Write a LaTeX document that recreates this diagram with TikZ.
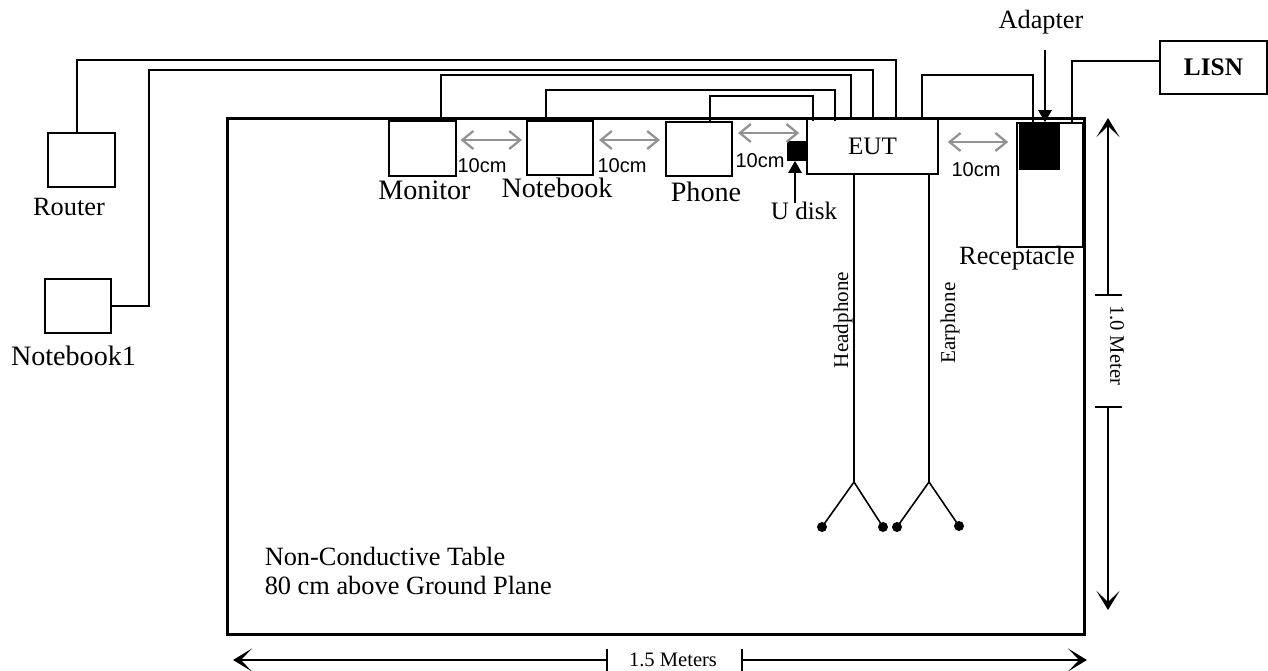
\documentclass[tikz,border=0pt]{standalone}
\usepackage{fontspec}
\setmainfont{Liberation Serif}
\setsansfont{Liberation Sans}
\usetikzlibrary{arrows.meta}

\begin{document}
\begin{tikzpicture}[x=0.02cm,y=-0.02cm,line width=0.9pt,
  >={Stealth[length=3.8mm,width=4.6mm,inset=2.2mm]},
  box/.style={draw,inner sep=0pt,minimum width=1.33cm,minimum height=1.09cm},
  blk/.style={draw,fill=black,inner sep=0pt},
  lbl/.style={font=\fontsize{16}{16}\selectfont,inner sep=0pt},
  cmlbl/.style={font=\sffamily\fontsize{11.4}{11.4}\selectfont,inner sep=0pt},
  dimlbl/.style={font=\fontsize{11.7}{11.7}\selectfont,inner sep=0pt},
  gaparrow/.style={<->,gray!85,line width=1.3pt,>={Straight Barb[length=2.2mm,width=3.6mm]}},
  ptr/.style={-{Triangle[length=2.4mm,width=2.6mm]},line width=1.3pt}]
  \useasboundingbox (0,0) rectangle (1268,670);

  % the table
  \node[draw,line width=1.7pt,minimum width=17.16cm,minimum height=10.34cm] (table) at (656,376.5) {};
  \node[inner sep=0pt,anchor=west,align=left,font=\fontsize{15}{16.5}\selectfont] (tabletxt) at (264,571)
    {Non-Conductive Table\\80 cm above Ground Plane};

  % devices beside the table
  \node[box] (router) at (81.5,160) {};
  \node[lbl,font=\fontsize{15}{15}\selectfont] (routerlbl) at (69,207) {Router};
  \node[box] (notebook1) at (78,306) {};
  \node[lbl] (notebook1lbl) at (73.5,356) {Notebook1};
  \node[box,minimum width=2.14cm,minimum height=1.06cm,font=\bfseries\fontsize{14.4}{14.4}\selectfont] (lisn) at (1213.5,67.5) {LISN};

  % devices on the table
  \node[box] (monitor) at (422.5,148.5) {};
  \node[box] (notebook) at (560,148) {};
  \node[box] (phone) at (699,149) {};
  \node[box,minimum width=2.62cm,minimum height=1.1cm,font=\fontsize{14.3}{14.3}\selectfont] (eut) at (872.5,146.5) {EUT};
  \node[blk,minimum size=0.36cm] (udisk) at (797,151) {};
  \node[box,minimum width=1.32cm,minimum height=2.48cm] (recept) at (1050,185) {};
  \node[blk,minimum width=0.78cm,minimum height=0.92cm] (adapter) at (1039.5,146) {};

  \node[lbl] (monitorlbl) at (424.5,190) {Monitor};
  \node[lbl] (notebooklbl) at (557,188) {Notebook};
  \node[lbl] (phonelbl) at (706,192) {Phone};
  \node[lbl,font=\fontsize{14.3}{14.3}\selectfont] (udisklbl) at (804,211) {U disk};
  \node[lbl,font=\fontsize{15}{15}\selectfont] (adapterlbl) at (1041,22) {Adapter};
  \node[lbl,font=\fontsize{15}{15}\selectfont] (receptlbl) at (1017,258) {Receptacle};

  % 10cm spacing
  \coordinate (g1) at ([yshift=0.17cm]monitor.east);
  \coordinate (g2) at ([yshift=0.16cm]notebook.east);
  \coordinate (g3) at ([yshift=0.32cm]phone.east);
  \coordinate (g4) at ([yshift=0.09cm]eut.east);
  \draw[gaparrow,shorten <=0.08cm,shorten >=0.08cm] (g1) -- (g1 -| notebook.west);
  \draw[gaparrow,shorten <=0.1cm,shorten >=0.1cm] (g2) -- (g2 -| phone.west);
  \draw[gaparrow,shorten <=0.1cm,shorten >=0.14cm] (g3) -- (g3 -| eut.west);
  \draw[gaparrow,shorten <=0.18cm,shorten >=0.16cm] (g4) -- (g4 -| recept.west);
  \node[cmlbl] (cm1) at (482,166) {10cm};
  \node[cmlbl] (cm2) at (622,166) {10cm};
  \node[cmlbl] (cm3) at (760,161) {10cm};
  \node[cmlbl] (cm4) at (976,170) {10cm};

  % pointers
  \coordinate (udiskfoot) at (795,203);
  \draw[ptr] (udiskfoot) -- (udiskfoot |- udisk.south);
  \coordinate (adapterfoot) at (1045,50);
  \draw[ptr] (adapterfoot) -- (adapterfoot |- adapter.north);

  % cables
  \coordinate (routerbend) at (896,60);
  \draw ([xshift=-0.09cm]router.north) |- (routerbend) -- (routerbend |- eut.north);
  \coordinate (nb1bend) at (873,70);
  \draw (notebook1.east) -- ++(37,0) |- (nb1bend) -- (nb1bend |- eut.north);
  \coordinate (monbend) at (851,75);
  \draw ([xshift=0.37cm]monitor.north) |- (monbend) -- (monbend |- eut.north);
  \coordinate (nbbend) at (835,90);
  \draw ([xshift=-0.28cm]notebook.north) |- (nbbend) -- ([yshift=-0.06cm]nbbend |- eut.north);
  \coordinate (phbend) at (813,96);
  \draw ([xshift=0.22cm]phone.north) |- (phbend) -- ([yshift=-0.06cm]phbend |- eut.north);
  \coordinate (eutbend) at (1033,75);
  \draw ([xshift=0.99cm]eut.north) |- (eutbend) -- (eutbend |- recept.north);
  \draw[line width=1.5pt] ([xshift=0.44cm]recept.north) |- ([yshift=0.13cm]lisn.west);

  % headphone and earphone
  \coordinate (hpfork) at (854,482);
  \coordinate (hpl) at (822,527);
  \coordinate (hpr) at (883,527);
  \coordinate (epfork) at (929,482);
  \coordinate (epl) at (897,527);
  \coordinate (epr) at (959,526);
  \draw (hpfork |- eut.south) -- (hpfork) -- (hpl) (hpfork) -- (hpr);
  \draw (epfork |- eut.south) -- (epfork) -- (epl) (epfork) -- (epr);
  \fill (hpl) circle (0.1cm) (hpr) circle (0.1cm) (epl) circle (0.1cm) (epr) circle (0.1cm);
  \node[inner sep=0pt,rotate=90,font=\fontsize{12}{12}\selectfont] (hplbl) at (843,320) {Headphone};
  \node[inner sep=0pt,rotate=90,font=\fontsize{12}{12}\selectfont] (eplbl) at (950,323) {Earphone};

  % dimensions
  \coordinate (vtop) at (1108,118);
  \coordinate (vtick1) at (1108,295);
  \coordinate (vtick2) at (1108,407);
  \coordinate (vbot) at (1108,610);
  \draw[line width=0.8pt,->] (vtick1) -- (vtop);
  \draw[line width=0.8pt,->] (vtick2) -- (vbot);
  \draw[line width=0.8pt] ([xshift=-0.26cm]vtick1) -- ([xshift=0.28cm]vtick1)
    ([xshift=-0.26cm]vtick2) -- ([xshift=0.28cm]vtick2);
  \node[dimlbl,rotate=-90] (vlen) at (1117,345) {1.0 Meter};
  \coordinate (hleft) at (233,660);
  \coordinate (htick1) at (607,660);
  \coordinate (htick2) at (742,660);
  \coordinate (hright) at (1087,660);
  \draw[line width=0.8pt,->] (htick1) -- (hleft);
  \draw[line width=0.8pt,->] (htick2) -- (hright);
  \draw[line width=0.8pt] ([yshift=-0.22cm]htick1) -- ([yshift=0.22cm]htick1)
    ([yshift=-0.22cm]htick2) -- ([yshift=0.22cm]htick2);
  \node[dimlbl] (hlen) at (673,660) {1.5 Meters};
\end{tikzpicture}
\end{document}
